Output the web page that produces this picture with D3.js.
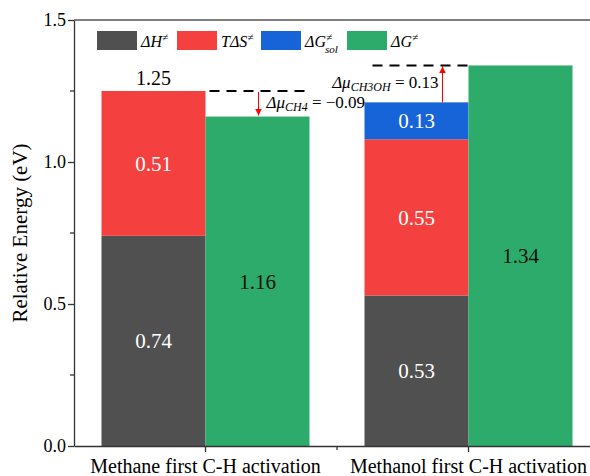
<!DOCTYPE html>
<html>
<head>
<meta charset="utf-8">
<script src="https://cdn.jsdelivr.net/npm/d3@7"></script>
<style>
  body { margin: 0; background: #fff; }
  svg text { font-family: "Liberation Serif", "DejaVu Serif", "Times New Roman", Times, serif !important; }
</style>
</head>
<body>
<svg id="chart" width="590" height="476"></svg>
<script>
const width = 590, height = 476;

// data
const categories = ["Methane first C-H activation", "Methanol first C-H activation"];
const dH = [0.74, 0.53];
const TdS = [0.51, 0.55];
const dGsol = [0, 0.13];
const dG = [1.16, 1.34];
const yTicks = [0.0, 0.5, 1.0, 1.5];

const colors = { dH: "#505050", TdS: "#F4413F", dGsol: "#1763D8", dG: "#2DAB6A" };

const marginLeft = 74, marginTop = 20, marginBottom = 30;
const xEnd = 600;

const svg = d3.select("#chart");

const x = d3.scaleBand().domain(categories).range([marginLeft, xEnd]);
const y = d3.scaleLinear().domain([0, 1.5]).range([height - marginBottom, marginTop]);

const barW = 104;

// stacked bars
categories.forEach((c, i) => {
    const cx = x(c) + x.bandwidth() / 2;
    const segs = [
        { v0: 0, v1: dH[i], col: colors.dH },
        { v0: dH[i], v1: dH[i] + TdS[i], col: colors.TdS },
        { v0: dH[i] + TdS[i], v1: dH[i] + TdS[i] + dGsol[i], col: colors.dGsol }
    ].filter(s => s.v1 > s.v0);

    segs.forEach(s => {
        svg.append("rect")
            .attr("x", cx - barW)
            .attr("y", y(s.v1))
            .attr("width", barW)
            .attr("height", y(s.v0) - y(s.v1))
            .attr("fill", s.col);
        svg.append("text")
            .attr("x", cx - barW / 2)
            .attr("y", (y(s.v0) + y(s.v1)) / 2)
            .attr("dy", "0.35em")
            .attr("text-anchor", "middle")
            .attr("fill", "#fff")
            .style("font-size", "21px")
            .text((s.v1 - s.v0).toFixed(2));
    });

    // total dG bar
    svg.append("rect")
        .attr("x", cx)
        .attr("y", y(dG[i]))
        .attr("width", barW)
        .attr("height", y(0) - y(dG[i]))
        .attr("fill", colors.dG);
    svg.append("text")
        .attr("x", cx + barW / 2)
        .attr("y", (y(0) + y(dG[i])) / 2)
        .attr("dy", "0.35em")
        .attr("text-anchor", "middle")
        .attr("fill", "#111")
        .style("font-size", "21px")
        .text(dG[i].toFixed(2));
});

// total label above methane stack
const c0 = x(categories[0]) + x.bandwidth() / 2;
const c1 = x(categories[1]) + x.bandwidth() / 2;
const top0 = dH[0] + TdS[0];
const top1 = dH[1] + TdS[1] + dGsol[1];
svg.append("text")
    .attr("x", c0 - barW / 2)
    .attr("y", y(top0) - 6)
    .attr("text-anchor", "middle")
    .style("font-size", "20px")
    .text(top0.toFixed(2));

// dashed reference lines
svg.append("line")
    .attr("x1", c0 + 4).attr("x2", c0 + barW - 2)
    .attr("y1", y(top0)).attr("y2", y(top0))
    .attr("stroke", "#000").attr("stroke-width", 2)
    .attr("stroke-dasharray", "10,7");
svg.append("line")
    .attr("x1", c1 - barW + 8).attr("x2", c1)
    .attr("y1", y(dG[1])).attr("y2", y(dG[1]))
    .attr("stroke", "#000").attr("stroke-width", 2)
    .attr("stroke-dasharray", "10,7");

// arrows
svg.append("defs").append("marker")
    .attr("id", "arr")
    .attr("viewBox", "0 0 10 10")
    .attr("refX", 10).attr("refY", 5)
    .attr("markerWidth", 7).attr("markerHeight", 9)
    .attr("markerUnits", "userSpaceOnUse")
    .attr("orient", "auto")
    .append("path").attr("d", "M0,0L10,5L0,10Z").attr("fill", "#ff0000");

svg.append("line")
    .attr("x1", c0 + 53).attr("x2", c0 + 53)
    .attr("y1", y(top0) + 1).attr("y2", y(dG[0]) - 1)
    .attr("stroke", "#ff0000").attr("stroke-width", 1)
    .attr("marker-end", "url(#arr)");
svg.append("line")
    .attr("x1", c1 - 26).attr("x2", c1 - 26)
    .attr("y1", y(top1)).attr("y2", y(dG[1]) + 1)
    .attr("stroke", "#ff0000").attr("stroke-width", 1)
    .attr("marker-end", "url(#arr)");

// annotations
const a1 = svg.append("text")
    .attr("x", c0 + 61).attr("y", 108)
    .style("font-size", "17px");
a1.append("tspan").style("font-style", "italic").text("Δμ");
a1.append("tspan").style("font-style", "italic").style("font-size", "12px").attr("dy", 3).text("CH4");
a1.append("tspan").attr("dy", -3).text(" = −" + Math.abs(dG[0] - top0).toFixed(2));

const a2 = svg.append("text")
    .attr("x", c1 - 30).attr("y", 88)
    .attr("text-anchor", "end")
    .style("font-size", "17px");
a2.append("tspan").style("font-style", "italic").text("Δμ");
a2.append("tspan").style("font-style", "italic").style("font-size", "12px").attr("dy", 3).text("CH3OH");
a2.append("tspan").attr("dy", -3).text(" = " + (dG[1] - top1).toFixed(2));

// axes
svg.append("g")
    .attr("transform", `translate(0,${y(0)})`)
    .call(d3.axisBottom(x).tickSize(6).tickSizeOuter(0))
    .call(g => g.select(".domain").attr("stroke", "#333").attr("stroke-width", 1.3))
    .call(g => g.selectAll(".tick line").attr("stroke", "#333").attr("stroke-width", 1.3))
    .call(g => g.selectAll(".tick text")
        .attr("dy", 0).attr("y", 27)
        .attr("fill", "#000")
        .style("font-size", "20px"));

// minor x tick between categories
svg.append("line")
    .attr("x1", (c0 + c1) / 2).attr("x2", (c0 + c1) / 2)
    .attr("y1", y(0)).attr("y2", y(0) + 4)
    .attr("stroke", "#333").attr("stroke-width", 1.3);

svg.append("g")
    .attr("transform", `translate(${marginLeft},0)`)
    .call(d3.axisLeft(y).tickValues(yTicks).tickFormat(d3.format(".1f")).tickSize(6).tickSizeOuter(0))
    .call(g => g.select(".domain").attr("stroke", "#333").attr("stroke-width", 1.3))
    .call(g => g.selectAll(".tick line").attr("stroke", "#333").attr("stroke-width", 1.3))
    .call(g => g.selectAll(".tick text")
        .attr("fill", "#000")
        .attr("x", -8)
        .style("font-size", "18px"));

// minor y ticks
d3.range(0.25, 1.5, 0.5).forEach(v => {
    svg.append("line")
        .attr("x1", marginLeft - 4).attr("x2", marginLeft)
        .attr("y1", y(v)).attr("y2", y(v))
        .attr("stroke", "#333").attr("stroke-width", 1.3);
});

// top frame
svg.append("line")
    .attr("x1", marginLeft).attr("x2", xEnd)
    .attr("y1", y(1.5)).attr("y2", y(1.5))
    .attr("stroke", "#555").attr("stroke-width", 1.5);

// y-axis title
svg.append("text")
    .attr("transform", `translate(27,${(y(0) + y(1.5)) / 2}) rotate(-90)`)
    .attr("text-anchor", "middle")
    .style("font-size", "21px")
    .text("Relative Energy (eV)");

// legend
const legendItems = [
    { col: colors.dH, x: 97, parts: [["ΔH", "i"], ["≠", "sup"]] },
    { col: colors.TdS, x: 177, parts: [["TΔS", "i"], ["≠", "sup"]] },
    { col: colors.dGsol, x: 261, parts: [["ΔG", "i"], ["≠", "sup"], ["sol", "sub"]] },
    { col: colors.dG, x: 347, parts: [["ΔG", "i"], ["≠", "sup"]] }
];
legendItems.forEach(it => {
    svg.append("rect")
        .attr("x", it.x).attr("y", 31)
        .attr("width", 40).attr("height", 19)
        .attr("fill", it.col);
    const t = svg.append("text")
        .attr("x", it.x + 44).attr("y", 47)
        .style("font-size", "16px")
        .style("font-style", "italic");
    let lastDy = 0;
    it.parts.forEach(([s, kind]) => {
        const ts = t.append("tspan").text(s);
        if (kind === "sup") {
            ts.attr("dy", -6 - lastDy).style("font-size", "11px");
            lastDy = -6;
        } else if (kind === "sub") {
            ts.attr("dy", 12).attr("dx", -7).style("font-size", "11px");
            lastDy = 6;
        } else {
            lastDy = 0;
        }
    });
});
</script>
</body>
</html>
